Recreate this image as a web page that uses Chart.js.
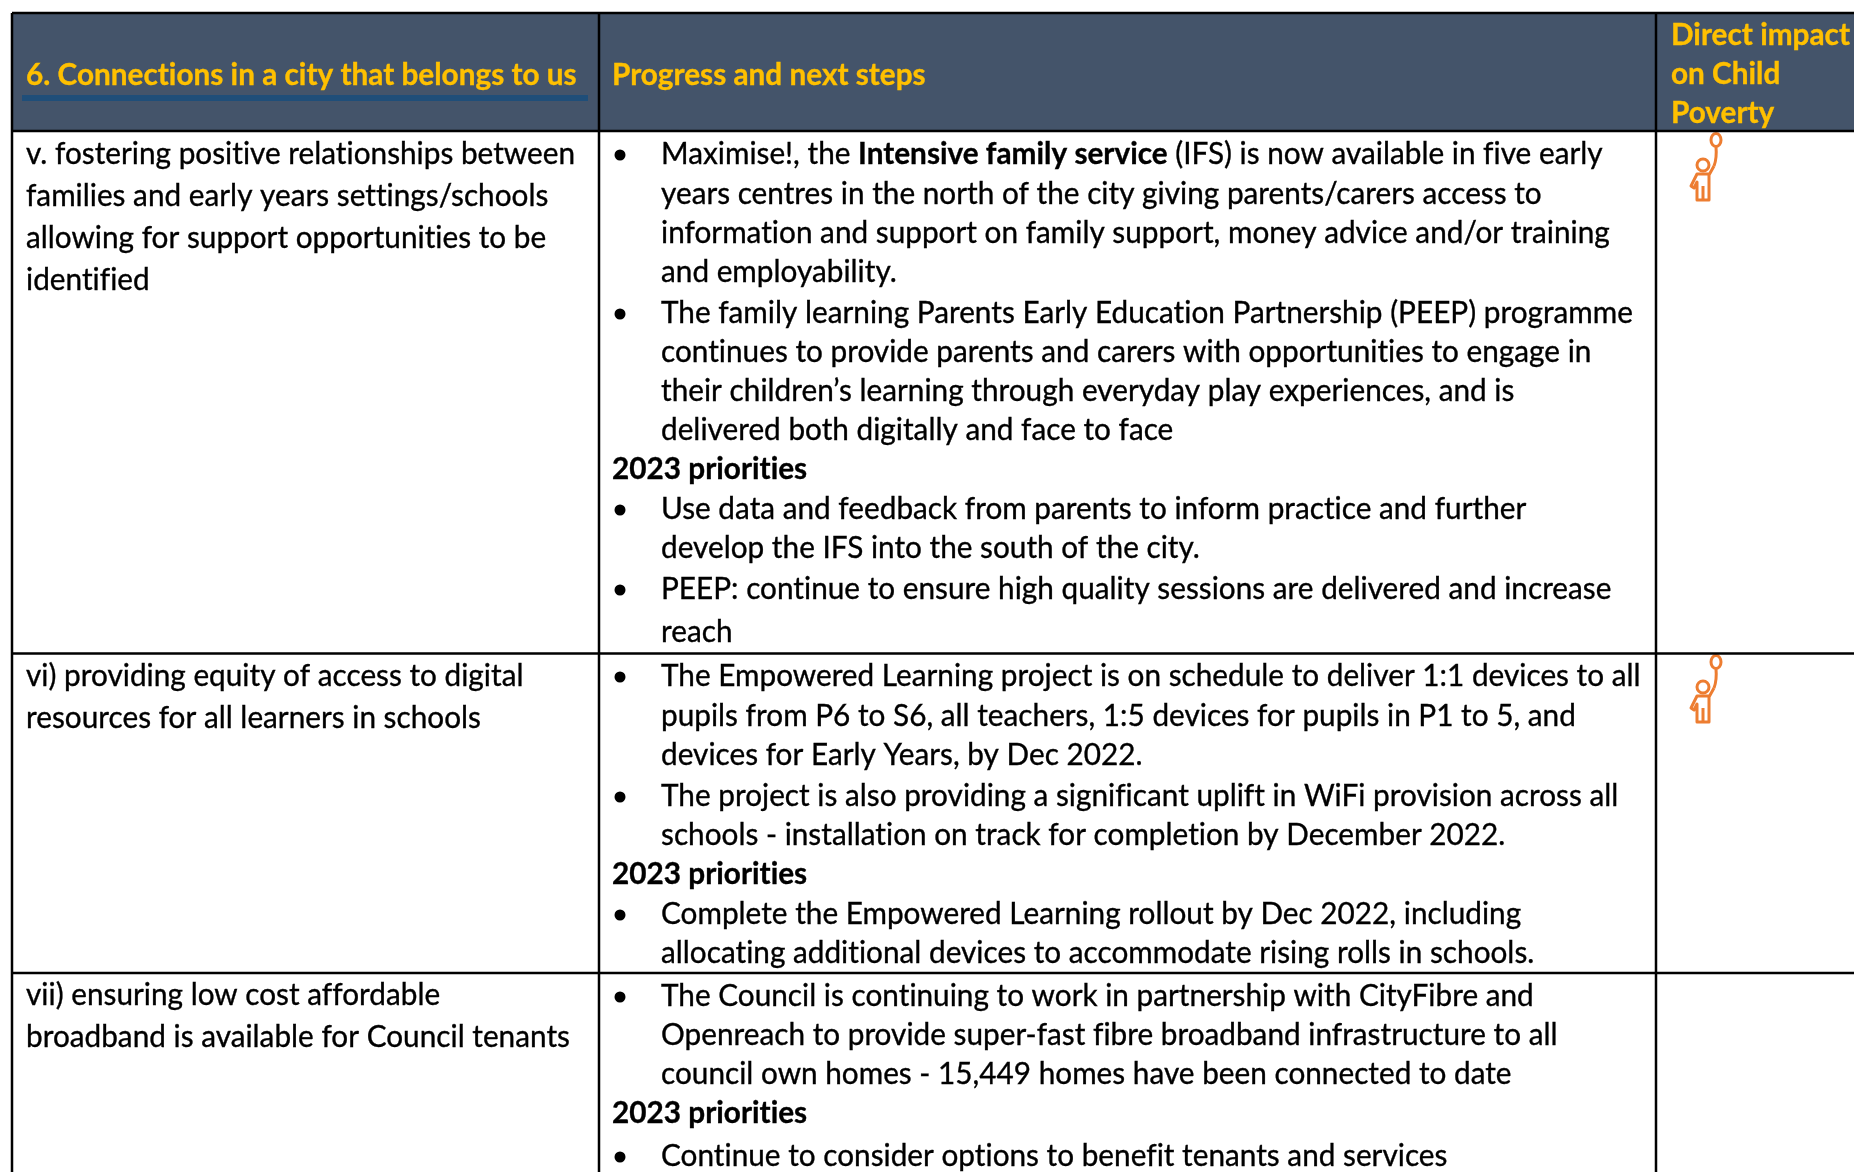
<!DOCTYPE html>
<html>
<head>
<meta charset="utf-8">
<title>Connections in a city that belongs to us</title>
<script src="https://cdn.jsdelivr.net/npm/chart.js@4"></script>
<style>
    html, body { margin: 0; padding: 0; background: #fff; overflow: hidden; }
    canvas { display: block; }
</style>
</head>
<body>
<canvas id="table-chart" width="1854" height="1172"></canvas>
<script>
// Table content, one entry per printed line
const headerCells = [
    ['6. Connections in a city that belongs to us'],
    ['Progress and next steps'],
    ['Direct impact', 'on Child', 'Poverty']
];

const topicLines = [
    'v. fostering positive relationships between',
    'families and early years settings/schools',
    'allowing for support opportunities to be',
    'identified',
    'vi) providing equity of access to digital',
    'resources for all learners in schools',
    'vii) ensuring low cost affordable',
    'broadband is available for Council tenants'
];

// ** marks bold runs, "- " marks a bullet, "# " marks a bold heading
const progressLines = [
    '- Maximise!, the **Intensive family service** (IFS) is now available in five early',
    'years centres in the north of the city giving parents/carers access to',
    'information and support on family support, money advice and/or training',
    'and employability.',
    '- The family learning Parents Early Education Partnership (PEEP) programme',
    'continues to provide parents and carers with opportunities to engage in',
    'their children’s learning through everyday play experiences, and is',
    'delivered both digitally and face to face',
    '# 2023 priorities',
    '- Use data and feedback from parents to inform practice and further',
    'develop the IFS into the south of the city.',
    '- PEEP: continue to ensure high quality sessions are delivered and increase',
    'reach',
    '- The Empowered Learning project is on schedule to deliver 1:1 devices to all',
    'pupils from P6 to S6, all teachers, 1:5 devices for pupils in P1 to 5, and',
    'devices for Early Years, by Dec 2022.',
    '- The project is also providing a significant uplift in WiFi provision across all',
    'schools - installation on track for completion by December 2022.',
    '# 2023 priorities',
    '- Complete the Empowered Learning rollout by Dec 2022, including',
    'allocating additional devices to accommodate rising rolls in schools.',
    '- The Council is continuing to work in partnership with CityFibre and',
    'Openreach to provide super-fast fibre broadband infrastructure to all',
    'council own homes - 15,449 homes have been connected to date',
    '# 2023 priorities',
    '- Continue to consider options to benefit tenants and services'
];

// Layout of the table, in page units
const columnEdges = [12, 599, 1656];
const rowEdges = [13, 131, 653.5, 973];
const headerBaselines = [[85], [85], [45, 84, 123]];
const topicBaselines = [164, 206, 248, 290, 686, 728, 1005, 1047];
const progressBaselines = [164, 204, 243, 282, 323, 362, 401, 440, 479, 519, 558, 599, 642,
    686, 726, 765, 806, 845, 884, 924, 963, 1006, 1045, 1084, 1123, 1166];
const iconCentres = [{ x: 1708, y: 167 }, { x: 1708, y: 689 }];

const pageWidth = 1854;
const pageHeight = 1172;
const fontSize = 30;
const textWidthRatio = 0.991;

function makeIcon() {
    const icon = document.createElement('canvas');
    icon.width = 40;
    icon.height = 72;
    const c = icon.getContext('2d');
    c.strokeStyle = '#ED7D31';
    c.lineWidth = 3;
    c.lineJoin = 'round';
    c.translate(-28, -11);
    c.beginPath();
    c.ellipse(56, 20, 5, 6.5, 0, 0, Math.PI * 2);
    c.stroke();
    c.beginPath();
    c.moveTo(56, 27);
    c.quadraticCurveTo(57, 38, 54, 46);
    c.stroke();
    c.beginPath();
    c.arc(43, 45, 6, 0, Math.PI * 2);
    c.stroke();
    c.beginPath();
    c.moveTo(54, 46);
    c.lineTo(49, 55);
    c.lineTo(49, 80);
    c.lineTo(37, 80);
    c.lineTo(37, 62);
    c.lineTo(34, 68);
    c.lineTo(31, 66);
    c.lineTo(37, 54);
    c.lineTo(49, 54);
    c.stroke();
    c.beginPath();
    c.moveTo(43, 66);
    c.lineTo(43, 80);
    c.stroke();
    return icon;
}

// Draws a line of text made of plain and **bold** runs, squeezed to the Calibri-like width
function drawRuns(ctx, text, x, y, color, allBold) {
    ctx.save();
    ctx.translate(x, y);
    ctx.scale(textWidthRatio, 1);
    ctx.fillStyle = color;
    ctx.strokeStyle = color;
    ctx.lineWidth = 0.35;
    ctx.textBaseline = 'alphabetic';
    ctx.letterSpacing = '0.01px'; // stops Lato joining "ti" and "fi"
    let pen = 0;
    text.split('**').forEach((run, i) => {
        const bold = allBold || i % 2 === 1;
        ctx.font = (bold ? 'bold ' : '') + fontSize + 'px Lato';
        ctx.fillText(run, pen, 0);
        ctx.strokeText(run, pen, 0); // the scan of the original prints a bit heavier
        pen += ctx.measureText(run).width;
    });
    ctx.restore();
}

const tablePlugin = {
    id: 'tablePlugin',
    beforeDatasetsDraw(chart) {
        const { ctx, scales: { x, y } } = chart;
        const left = x.getPixelForValue(columnEdges[0]);
        const top = y.getPixelForValue(rowEdges[0]);
        ctx.fillStyle = '#44546A';
        ctx.fillRect(left, top, x.getPixelForValue(pageWidth) - left, y.getPixelForValue(rowEdges[1]) - top);
        ctx.fillStyle = '#1F4E79';
        ctx.fillRect(x.getPixelForValue(22), y.getPixelForValue(95), x.getPixelForValue(588) - x.getPixelForValue(22), y.getPixelForValue(101) - y.getPixelForValue(95));
    },
    afterDatasetsDraw(chart) {
        const { ctx, scales: { x, y } } = chart;
        const headerX = [26, 612, 1671];
        headerCells.forEach((cell, col) => {
            cell.forEach((line, i) => {
                drawRuns(ctx, line, x.getPixelForValue(headerX[col]), y.getPixelForValue(headerBaselines[col][i]), '#FFC000', true);
            });
        });
        topicLines.forEach((line, i) => {
            drawRuns(ctx, line, x.getPixelForValue(26), y.getPixelForValue(topicBaselines[i]), '#000', false);
        });
        progressLines.forEach((line, i) => {
            const py = y.getPixelForValue(progressBaselines[i]);
            if (line.startsWith('# ')) {
                drawRuns(ctx, line.slice(2), x.getPixelForValue(612), py, '#000', true);
                return;
            }
            const bullet = line.startsWith('- ');
            if (bullet) {
                ctx.fillStyle = '#000';
                ctx.beginPath();
                ctx.arc(x.getPixelForValue(620), py - 9, 5.5, 0, Math.PI * 2);
                ctx.fill();
            }
            drawRuns(ctx, bullet ? line.slice(2) : line, x.getPixelForValue(661), py, '#000', false);
        });
    }
};

function rule(points) {
    return {
        type: 'scatter',
        data: points,
        showLine: true,
        borderColor: '#000',
        borderWidth: 2.5,
        pointRadius: 0,
        clip: false
    };
}

document.addEventListener('DOMContentLoaded', () => {
    const datasets = [];
    columnEdges.forEach(edge => {
        datasets.push(rule([{ x: edge, y: rowEdges[0] }, { x: edge, y: pageHeight }]));
    });
    rowEdges.forEach(edge => {
        datasets.push(rule([{ x: columnEdges[0], y: edge }, { x: pageWidth, y: edge }]));
    });
    datasets.push({
        type: 'scatter',
        data: iconCentres,
        pointStyle: makeIcon(),
        pointRadius: 20,
        showLine: false
    });

    new Chart(document.getElementById('table-chart'), {
        type: 'scatter',
        data: { datasets: datasets },
        plugins: [tablePlugin],
        options: {
            responsive: false,
            animation: false,
            layout: { padding: 0, autoPadding: false },
            plugins: { legend: { display: false }, tooltip: { enabled: false } },
            scales: {
                x: { type: 'linear', display: false, min: 0, max: pageWidth },
                y: { type: 'linear', display: false, min: 0, max: pageHeight, reverse: true }
            }
        }
    });
});
</script>
</body>
</html>
